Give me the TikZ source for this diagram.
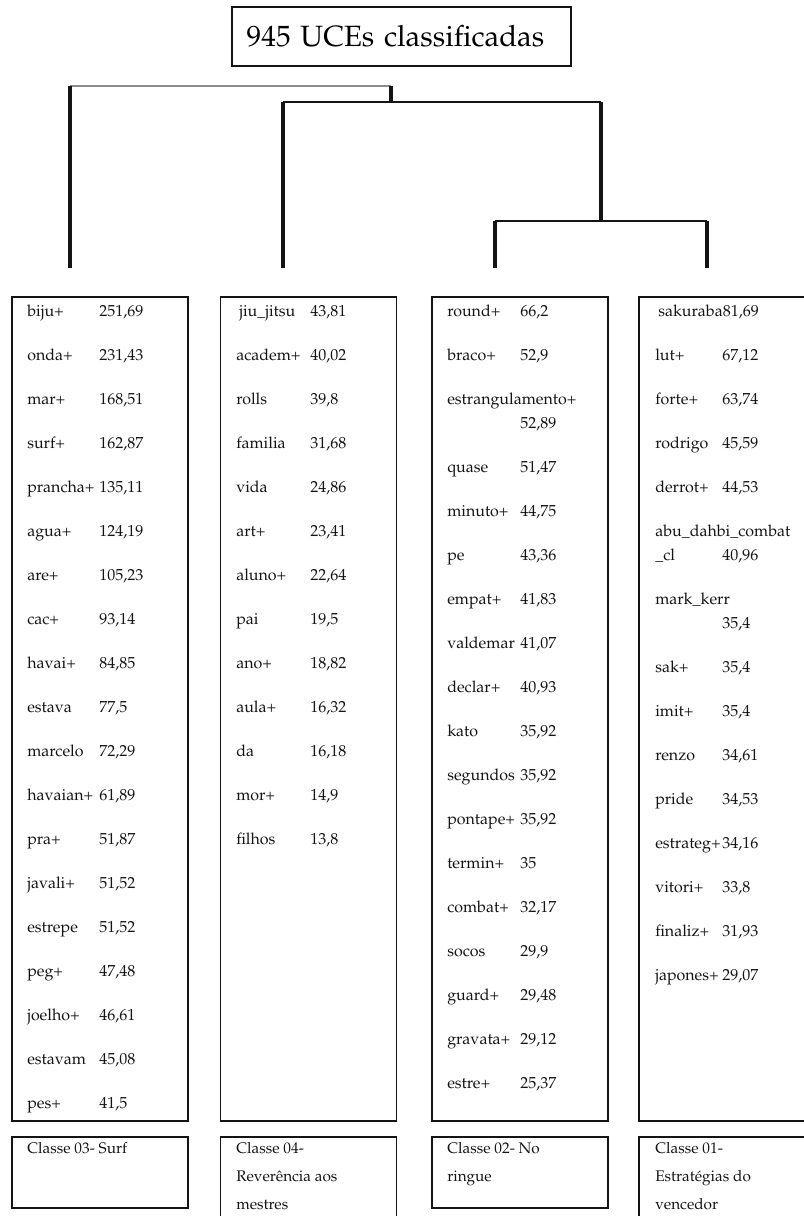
\documentclass[tikz,border=0pt]{standalone}
\usepackage[T1]{fontenc}
\usepackage{mathpazo}
\definecolor{ink}{HTML}{141414}
\definecolor{faint}{HTML}{8C8C8C}
\newcommand{\wv}[3][54pt]{\makebox[#1][l]{#2}#3}
\tikzset{
  frame/.style={rectangle,draw=ink,line width=1pt,inner sep=0pt,minimum width=132pt},
  listbox/.style={frame,minimum height=618pt},
  classbox/.style={frame,minimum height=53.25pt},
  classtall/.style={frame,minimum height=74.25pt},
  term/.style={anchor=base west,inner sep=0pt,font=\fontsize{12}{18}\selectfont,text=ink},
  classname/.style={anchor=north west,inner sep=0pt,align=left,font=\fontsize{11.5}{21}\selectfont,text=ink},
  stem/.style={line width=2.8pt,ink},
  twig/.style={line width=1pt,ink}
}
\begin{document}
\begin{tikzpicture}[x=0.75pt,y=-0.75pt]
  \useasboundingbox (0,0) rectangle (803,1216);
  \node[frame,inner xsep=11pt,text width=232.25pt,align=left,minimum height=44.25pt,font=\fontsize{22}{24}\selectfont] (title) at (401.5,36.5) {945 UCEs classificadas};
  % dendrogram
  \coordinate (j1l) at (70,86);
  \coordinate (j1) at (391,86);
  \coordinate (j2) at (391,102);
  \coordinate (j2l) at (283,102);
  \coordinate (j2r) at (601,102);
  \coordinate (j3) at (601,221);
  \coordinate (j3l) at (495,221);
  \coordinate (j3r) at (707,221);
  \coordinate (l1) at (70,268);
  \coordinate (l2) at (283,268);
  \coordinate (l3) at (495,268);
  \coordinate (l4) at (707,268);
  \draw[twig,faint] (j1l) -- (j1);
  \draw[twig] (j2l) -- (j2r);
  \draw[twig] (j3l) -- (j3r);
  \draw[stem] (j1l) -- (l1);
  \draw[stem] (j1) -- (j2);
  \draw[stem] (j2l) -- (l2);
  \draw[stem] (j2r) -- (j3);
  \draw[stem] (j3l) -- (l3);
  \draw[stem] (j3r) -- (l4);
  % boxes
  \node[listbox] (col1) at (100,709) {};
  \node[listbox] (col2) at (308.5,709) {};
  \node[listbox] (col3) at (520,709) {};
  \node[listbox] (col4) at (727,709) {};
  \node[classbox] (cls1) at (100,1172.5) {};
  \node[classtall] (cls2) at (308.5,1186.5) {};
  \node[classbox] (cls3) at (520,1172.5) {};
  \node[classtall] (cls4) at (727,1186.5) {};
  % class 03
  \node[term] (a1) at (27,316) {\wv{biju+}{251,69}};
  \node[term] (a2) at (27,360) {\wv{onda+}{231,43}};
  \node[term] (a3) at (27,404) {\wv{mar+}{168,51}};
  \node[term] (a4) at (27,448) {\wv{surf+}{162,87}};
  \node[term] (a5) at (27,492) {\wv{prancha+}{135,11}};
  \node[term] (a6) at (27,536) {\wv{agua+}{124,19}};
  \node[term] (a7) at (27,580) {\wv{are+}{105,23}};
  \node[term] (a8) at (27,624) {\wv{cac+}{93,14}};
  \node[term] (a9) at (27,668) {\wv{havai+}{84,85}};
  \node[term] (a10) at (27,712) {\wv{estava}{77,5}};
  \node[term] (a11) at (27,756) {\wv{marcelo}{72,29}};
  \node[term] (a12) at (27,800) {\wv{havaian+}{61,89}};
  \node[term] (a13) at (27,844) {\wv{pra+}{51,87}};
  \node[term] (a14) at (27,888) {\wv{javali+}{51,52}};
  \node[term] (a15) at (27,932) {\wv{estrepe}{51,52}};
  \node[term] (a16) at (27,976) {\wv{peg+}{47,48}};
  \node[term] (a17) at (27,1020) {\wv{joelho+}{46,61}};
  \node[term] (a18) at (27,1064) {\wv{estavam}{45,08}};
  \node[term] (a19) at (27,1108) {\wv{pes+}{41,5}};
  % class 04
  \node[term] (b1) at (239,316) {\wv[53.25pt]{jiu\_jitsu}{43,81}};
  \node[term] (b2) at (236,360) {\wv[55.5pt]{academ+}{40,02}};
  \node[term] (b3) at (236,404) {\wv[55.5pt]{rolls}{39,8}};
  \node[term] (b4) at (236,448) {\wv[55.5pt]{familia}{31,68}};
  \node[term] (b5) at (236,492) {\wv[55.5pt]{vida}{24,86}};
  \node[term] (b6) at (236,536) {\wv[55.5pt]{art+}{23,41}};
  \node[term] (b7) at (236,580) {\wv[55.5pt]{aluno+}{22,64}};
  \node[term] (b8) at (236,624) {\wv[55.5pt]{pai}{19,5}};
  \node[term] (b9) at (236,668) {\wv[55.5pt]{ano+}{18,82}};
  \node[term] (b10) at (236,712) {\wv[55.5pt]{aula+}{16,32}};
  \node[term] (b11) at (236,756) {\wv[55.5pt]{da}{16,18}};
  \node[term] (b12) at (236,800) {\wv[55.5pt]{mor+}{14,9}};
  \node[term] (b13) at (236,844) {\wv[55.5pt]{filhos}{13,8}};
  % class 02
  \node[term] (c1) at (447,316) {\wv[54.75pt]{round+}{66,2}};
  \node[term] (c2) at (447,360) {\wv[54.75pt]{braco+}{52,9}};
  \node[term] (c3) at (447,404) {estrangulamento+};
  \node[term] (c3b) at (520,428) {52,89};
  \node[term] (c4) at (447,472) {\wv[54.75pt]{quase}{51,47}};
  \node[term] (c5) at (447,516) {\wv[54.75pt]{minuto+}{44,75}};
  \node[term] (c6) at (447,560) {\wv[54.75pt]{pe}{43,36}};
  \node[term] (c7) at (447,604) {\wv[54.75pt]{empat+}{41,83}};
  \node[term] (c8) at (447,648) {\wv[54.75pt]{valdemar}{41,07}};
  \node[term] (c9) at (447,692) {\wv[54.75pt]{declar+}{40,93}};
  \node[term] (c10) at (447,736) {\wv[54.75pt]{kato}{35,92}};
  \node[term] (c11) at (447,780) {\wv[54.75pt]{segundos}{35,92}};
  \node[term] (c12) at (447,824) {\wv[54.75pt]{pontape+}{35,92}};
  \node[term] (c13) at (447,868) {\wv[54.75pt]{termin+}{35}};
  \node[term] (c14) at (447,912) {\wv[54.75pt]{combat+}{32,17}};
  \node[term] (c15) at (447,956) {\wv[54.75pt]{socos}{29,9}};
  \node[term] (c16) at (447,1000) {\wv[54.75pt]{guard+}{29,48}};
  \node[term] (c17) at (447,1044) {\wv[54.75pt]{gravata+}{29,12}};
  \node[term] (c18) at (447,1088) {\wv[54.75pt]{estre+}{25,37}};
  % class 01
  \node[term] (d1) at (658,316) {\wv[48.5pt]{sakuraba}{81,69}};
  \node[term] (d2) at (655,360) {\wv[50.25pt]{lut+}{67,12}};
  \node[term] (d3) at (655,404) {\wv[50.25pt]{forte+}{63,74}};
  \node[term] (d4) at (655,448) {\wv[50.25pt]{rodrigo}{45,59}};
  \node[term] (d5) at (655,492) {\wv[50.25pt]{derrot+}{44,53}};
  \node[term] (d6) at (655,536) {abu\_dahbi\_combat};
  \node[term] (d6b) at (655,560) {\wv[50.25pt]{\_cl}{40,96}};
  \node[term] (d7) at (655,604) {mark\_kerr};
  \node[term] (d7b) at (722,628) {35,4};
  \node[term] (d8) at (655,672) {\wv[50.25pt]{sak+}{35,4}};
  \node[term] (d9) at (655,716) {\wv[50.25pt]{imit+}{35,4}};
  \node[term] (d10) at (655,760) {\wv[50.25pt]{renzo}{34,61}};
  \node[term] (d11) at (655,804) {\wv[50.25pt]{pride}{34,53}};
  \node[term] (d12) at (655,848) {\wv[50.25pt]{estrateg+}{34,16}};
  \node[term] (d13) at (655,892) {\wv[50.25pt]{vitori+}{33,8}};
  \node[term] (d14) at (655,936) {\wv[50.25pt]{finaliz+}{31,93}};
  \node[term] (d15) at (655,980) {\wv[50.25pt]{japones+}{29,07}};
  % class names
  \node[classname] (n1) at (27,1142) {Classe 03- Surf};
  \node[classname] (n2) at (236,1142) {Classe 04-\\Rever\^encia aos\\mestres};
  \node[classname] (n3) at (447,1142) {Classe 02- No\\ringue};
  \node[classname] (n4) at (655,1142) {Classe 01-\\Estrat\'egias do\\vencedor};
\end{tikzpicture}
\end{document}
